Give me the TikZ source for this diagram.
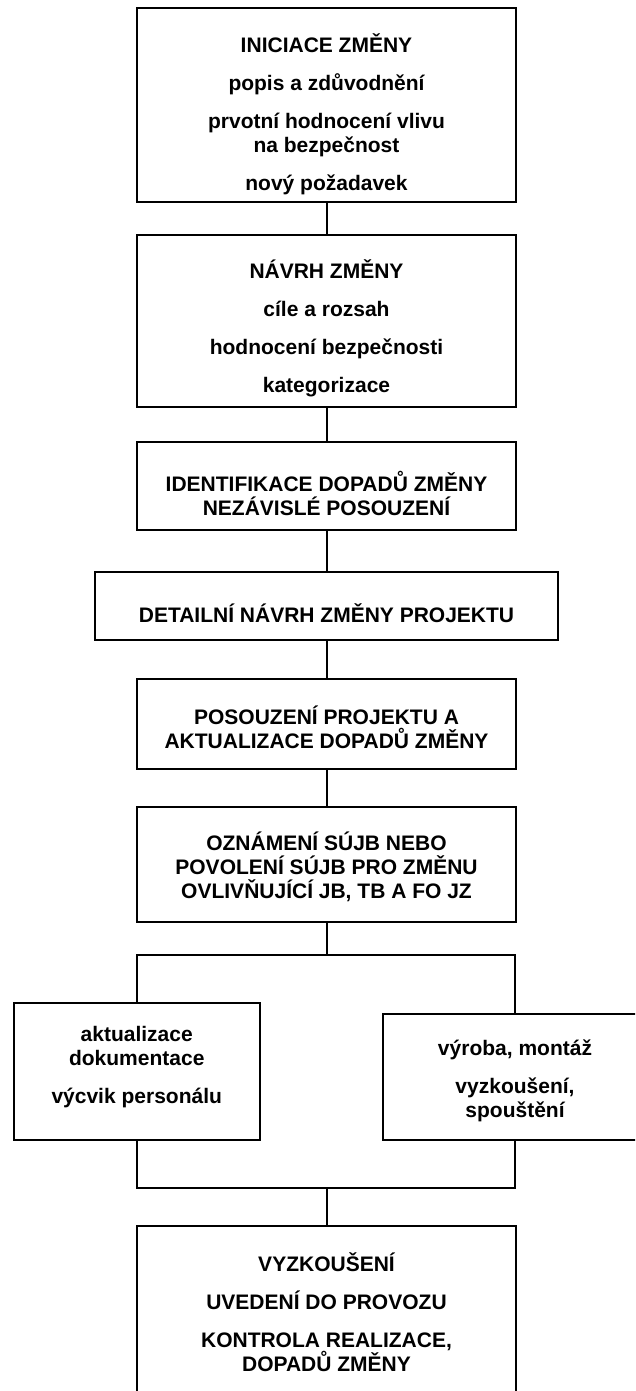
\documentclass[tikz,border=0pt]{standalone}
\usepackage{fontspec}
\setmainfont{Liberation Sans}
\begin{document}
\begin{tikzpicture}[x=1pt,y=-1pt,
  box/.style={draw=black, line width=2pt, inner sep=0pt, fill=none},
  txt/.style={align=center, inner sep=0pt, font=\bfseries\fontsize{21}{24}\selectfont},
  link/.style={draw=black, line width=2pt}]
\path[use as bounding box] (0,0) rectangle (635,1391);
\clip (0,0) rectangle (635,1391);
% boxes
\node[box, minimum width=379pt, minimum height=194pt] (b1) at (326.5,105) {};
\node[box, minimum width=379pt, minimum height=172pt] (b2) at (326.5,321) {};
\node[box, minimum width=379pt, minimum height=88pt] (b3) at (326.5,486) {};
\node[box, minimum width=463pt, minimum height=68pt] (b4) at (326.5,606) {};
\node[box, minimum width=379pt, minimum height=90pt] (b5) at (326.5,724) {};
\node[box, minimum width=379pt, minimum height=115pt] (b6) at (326.5,864.5) {};
\node[box, minimum width=246.5pt, minimum height=137pt] (L) at (136.75,1071.5) {};
\node[box, minimum width=264pt, minimum height=126pt] (R) at (515,1077) {};
\node[box, minimum width=379pt, minimum height=180pt] (b7) at (326.5,1316) {};
% texts
\node[txt] (t1) at (326.5,114.5) {INICIACE ZMĚNY\\[14pt] popis a zdůvodnění\\[14pt] prvotní hodnocení vlivu\\ na bezpečnost\\[14pt] nový požadavek};
\node[txt] (t2) at (326.5,328.5) {NÁVRH ZMĚNY\\[14pt] cíle a rozsah\\[14pt] hodnocení bezpečnosti\\[14pt] kategorizace};
\node[txt] (t3) at (326.5,493) {IDENTIFIKACE DOPADŮ ZMĚNY\\ NEZÁVISLÉ POSOUZENÍ};
\node[txt] (t4) at (326.5,613) {DETAILNÍ NÁVRH ZMĚNY PROJEKTU};
\node[txt] (t5) at (326.5,727) {POSOUZENÍ PROJEKTU A\\ AKTUALIZACE DOPADŮ ZMĚNY};
\node[txt] (t6) at (326.5,866.5) {OZNÁMENÍ SÚJB NEBO\\ POVOLENÍ SÚJB PRO ZMĚNU\\ OVLIVŇUJÍCÍ JB, TB A FO JZ};
\node[txt] (tL) at (136.75,1067) {aktualizace\\ dokumentace\\[14pt] výcvik personálu};
\node[txt] (tR) at (515,1081) {výroba, montáž\\[14pt] vyzkoušení,\\ spouštění};
\node[txt] (t7) at (326.5,1312.5) {VYZKOUŠENÍ\\[14pt] UVEDENÍ DO PROVOZU\\[14pt] KONTROLA REALIZACE,\\ DOPADŮ ZMĚNY};
% connectors
\draw[link] (b1.south) -- (b2.north);
\draw[link] (b2.south) -- (b3.north);
\draw[link] (b3.south) -- (b4.north);
\draw[link] (b4.south) -- (b5.north);
\draw[link] (b5.south) -- (b6.north);
\coordinate (j1) at (326.5,955);
\coordinate (j2) at (326.5,1188);
\draw[link] (b6.south) -- (j1);
\draw[link] (L.north) |- (j1) -| (R.north);
\draw[link] (L.south) |- (j2) -| (R.south);
\draw[link] (j2) -- (b7.north);
\end{tikzpicture}
\end{document}
